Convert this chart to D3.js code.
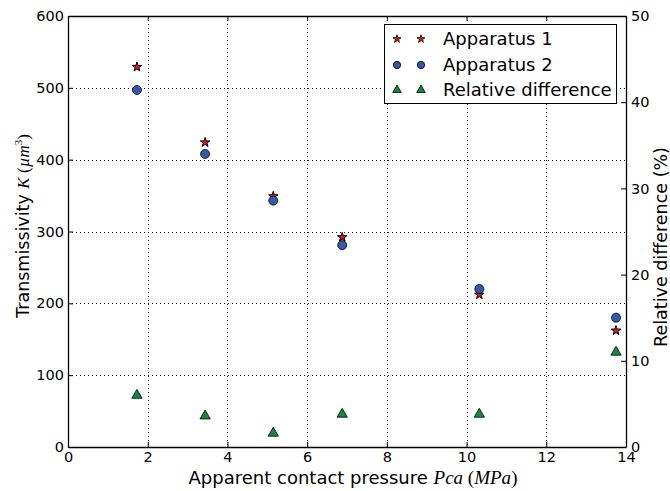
<!DOCTYPE html>
<html>
<head>
<meta charset="utf-8">
<script src="https://cdn.jsdelivr.net/npm/d3@7/dist/d3.min.js"></script>
<style>
  html, body { margin: 0; padding: 0; background: #fff; }
  svg { display: block; }
  text { font-family: "DejaVu Sans", sans-serif; fill: #000; }
</style>
</head>
<body>
<svg id="chart" width="670" height="491"></svg>
<script>
// Apparent contact pressure (MPa)
const pressure = [1.73, 3.44, 5.15, 6.88, 10.32, 13.75];
// Transmissivity K (µm³) measured on each apparatus
const apparatus1 = [529, 424, 349, 292, 212, 162];
const apparatus2 = [497, 408, 343, 281, 220, 180];
// Relative difference between the two apparatus (%)
const relativeDiff = [6.0, 3.6, 1.6, 3.8, 3.8, 11.0];

const xTicks = [0, 2, 4, 6, 8, 10, 12, 14];
const yLeftTicks = [0, 100, 200, 300, 400, 500, 600];
const yRightTicks = [0, 10, 20, 30, 40, 50];

const seriesNames = ["Apparatus 1", "Apparatus 2", "Relative difference"];
const colors = { star: "#e8141c", circle: "#3558a8", triangle: "#138a3e" };

const svg = d3.select("#chart");
const m = { left: 68, right: 626, top: 16, bottom: 447 };

const x = d3.scaleLinear().domain([0, 14]).range([m.left, m.right]);
const yL = d3.scaleLinear().domain([0, 600]).range([m.bottom, m.top]);
const yR = d3.scaleLinear().domain([0, 50]).range([m.bottom, m.top]);

// dotted grid
const grid = svg.append("g").attr("stroke", "#000").attr("stroke-width", 1)
  .attr("stroke-dasharray", "1,3");
grid.selectAll(".gx").data(xTicks.slice(1, -1)).join("line")
  .attr("x1", d => Math.round(x(d)) + 0.5).attr("x2", d => Math.round(x(d)) + 0.5)
  .attr("y1", m.top).attr("y2", m.bottom);
grid.selectAll(".gy").data(yLeftTicks.slice(1, -1)).join("line")
  .attr("y1", d => Math.round(yL(d)) + 0.5).attr("y2", d => Math.round(yL(d)) + 0.5)
  .attr("x1", m.left).attr("x2", m.right);

// axes with inward ticks
const tickFont = "14.5px";
const bottomAx = svg.append("g").attr("transform", `translate(0,${m.bottom})`)
  .call(d3.axisBottom(x).tickValues(xTicks).tickFormat(d3.format("d"))
    .tickSizeInner(-5).tickSizeOuter(0).tickPadding(5));
const topAx = svg.append("g").attr("transform", `translate(0,${m.top})`)
  .call(d3.axisTop(x).tickValues(xTicks).tickFormat("")
    .tickSizeInner(-5).tickSizeOuter(0));
const leftAx = svg.append("g").attr("transform", `translate(${m.left},0)`)
  .call(d3.axisLeft(yL).tickValues(yLeftTicks).tickFormat(d3.format("d"))
    .tickSizeInner(-5).tickSizeOuter(0).tickPadding(4));
const rightAx = svg.append("g").attr("transform", `translate(${m.right},0)`)
  .call(d3.axisRight(yR).tickValues(yRightTicks).tickFormat(d3.format("d"))
    .tickSizeInner(-5).tickSizeOuter(0).tickPadding(5));

[bottomAx, topAx, leftAx, rightAx].forEach(g => {
  g.select(".domain").attr("stroke", "#000").attr("stroke-width", 1.3);
  g.selectAll(".tick line").attr("stroke", "#000").attr("stroke-width", 1);
  g.selectAll(".tick text").attr("font-family", "DejaVu Sans, sans-serif")
    .attr("font-size", tickFont).attr("fill", "#000");
});

// markers
const starSym = d3.symbol().type(d3.symbolStar).size(28);
const circleSym = d3.symbol().type(d3.symbolCircle).size(64);
const triSym = d3.symbol().type(d3.symbolTriangle).size(46);

const pts = svg.append("g");
pts.selectAll(".s1").data(pressure).join("path")
  .attr("d", starSym)
  .attr("transform", (d, i) => `translate(${x(d)},${yL(apparatus1[i])})`)
  .attr("fill", colors.star).attr("stroke", "#000").attr("stroke-width", 1);
pts.selectAll(".s2").data(pressure).join("path")
  .attr("d", circleSym)
  .attr("transform", (d, i) => `translate(${x(d)},${yL(apparatus2[i])})`)
  .attr("fill", colors.circle).attr("stroke", "#000").attr("stroke-width", 0.8);
pts.selectAll(".s3").data(pressure).join("path")
  .attr("d", triSym)
  .attr("transform", (d, i) => `translate(${x(d)},${yR(relativeDiff[i])})`)
  .attr("fill", colors.triangle).attr("stroke", "#000").attr("stroke-width", 0.8);

// legend
const legend = svg.append("g");
legend.append("rect").attr("x", 384.5).attr("y", 24.5).attr("width", 232).attr("height", 79)
  .attr("fill", "#fff").attr("stroke", "#000").attr("stroke-width", 1);
const legSyms = [
  { sym: d3.symbol().type(d3.symbolStar).size(20), fill: colors.star },
  { sym: d3.symbol().type(d3.symbolCircle).size(42), fill: colors.circle },
  { sym: d3.symbol().type(d3.symbolTriangle).size(32), fill: colors.triangle }
];
const rowY = [39, 65, 90];
seriesNames.forEach((name, i) => {
  [397, 421].forEach(px => {
    legend.append("path").attr("d", legSyms[i].sym)
      .attr("transform", `translate(${px},${rowY[i]})`)
      .attr("fill", legSyms[i].fill).attr("stroke", "#000").attr("stroke-width", 0.8);
  });
  legend.append("text").attr("x", 443).attr("y", rowY[i]).attr("dy", "0.36em")
    .attr("font-size", "18px").text(name);
});

// axis titles
const serif = "Liberation Serif, DejaVu Serif, serif";
const xl = svg.append("text").attr("x", 353).attr("y", 484)
  .attr("text-anchor", "middle").attr("font-size", "18px");
xl.append("tspan").text("Apparent contact pressure ");
xl.append("tspan").attr("font-family", serif).attr("font-style", "italic").attr("font-size", "19px").text("Pca");
xl.append("tspan").attr("font-family", serif).attr("font-size", "19px").text(" (");
xl.append("tspan").attr("font-family", serif).attr("font-style", "italic").attr("font-size", "19px").text("MPa");
xl.append("tspan").attr("font-family", serif).attr("font-size", "19px").text(")");

const yl = svg.append("text").attr("transform", "translate(29,226) rotate(-90)")
  .attr("text-anchor", "middle").attr("font-size", "17.5px");
yl.append("tspan").text("Transmissivity ");
yl.append("tspan").attr("font-family", serif).attr("font-style", "italic").attr("font-size", "17px").text("K");
yl.append("tspan").attr("font-family", serif).attr("font-size", "17px").text(" (");
yl.append("tspan").attr("font-family", serif).attr("font-style", "italic").attr("font-size", "17px").text("µm");
yl.append("tspan").attr("font-family", serif).attr("font-size", "11px").attr("dy", "-7").text("3");
yl.append("tspan").attr("font-family", serif).attr("font-size", "17px").attr("dy", "7").text(")");

svg.append("text").attr("transform", "translate(667,247) rotate(-90)")
  .attr("text-anchor", "middle").attr("font-size", "17.5px")
  .text("Relative difference (%)");
</script>
</body>
</html>
